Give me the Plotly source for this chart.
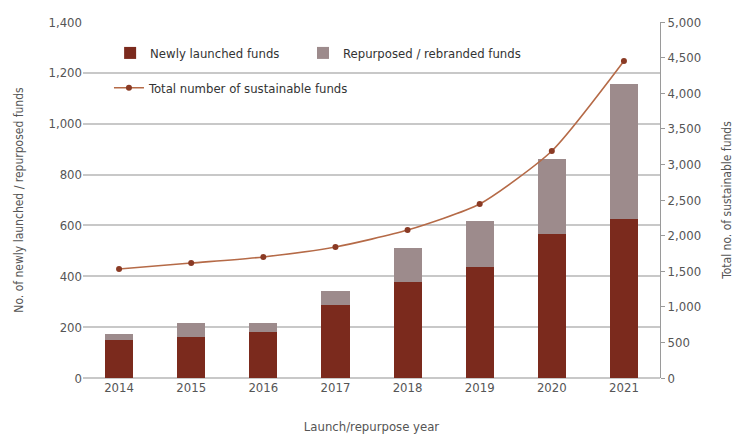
import plotly.graph_objects as go

years = ["2014", "2015", "2016", "2017", "2018", "2019", "2020", "2021"]
newly_launched = [150, 160, 180, 287, 377, 436, 566, 625]
repurposed = [23, 55, 35, 55, 134, 181, 295, 531]
total_funds = [1530, 1615, 1700, 1840, 2078, 2444, 3188, 4452]

font_family = "DejaVu Sans Condensed, Liberation Sans Narrow, Roboto, sans-serif"
txt = "#555555"

fig = go.Figure()
fig.add_trace(go.Bar(x=years, y=newly_launched, name="Newly launched funds" + "\u00a0" * 5,
                     marker=dict(color="#7b2a1d", line=dict(width=0)), legend="legend"))
fig.add_trace(go.Bar(x=years, y=repurposed, name="Repurposed / rebranded funds",
                     marker=dict(color="#9d8b8c", line=dict(width=0)), legend="legend"))
fig.add_trace(go.Scatter(x=years, y=total_funds, name="Total number of sustainable funds",
                         mode="lines+markers", yaxis="y2", legend="legend2",
                         line=dict(color="#b56a47", width=1.6, shape="spline", smoothing=0.6),
                         marker=dict(color="#8a3a24", size=6)))

fig.update_layout(
    width=742, height=439,
    margin=dict(l=83, r=82, t=22, b=61),
    barmode="stack", bargap=0.61,
    plot_bgcolor="white", paper_bgcolor="white",
    font=dict(family=font_family, size=12, color=txt),
    xaxis=dict(showgrid=False, showline=False, ticks="", tickfont=dict(size=13), automargin=False,
               title=dict(text="Launch/repurpose year", font=dict(size=13), standoff=27)),
    yaxis=dict(range=[0, 1400], dtick=200, tickformat=",", gridcolor="#c8c8c8", gridwidth=1.5,
               zeroline=True, zerolinecolor="#c8c8c8", zerolinewidth=1.5,
               showline=False, tickfont=dict(size=13),
               title=dict(text="No. of newly launched / repurposed funds", font=dict(size=12), standoff=22)),
    yaxis2=dict(range=[0, 5000], dtick=500, tickformat=",", overlaying="y", side="right",
                showgrid=False, zeroline=False, showline=True, linecolor="#9a9a9a", linewidth=1,
                ticks="outside", ticklen=4, tickcolor="#9a9a9a", tickfont=dict(size=13),
                title=dict(text="Total no. of sustainable funds", font=dict(size=12), standoff=22)),
    legend=dict(orientation="h", x=0.047, y=0.913, xanchor="left", yanchor="middle",
                bgcolor="rgba(0,0,0,0)", font=dict(size=13, color="#333"), traceorder="normal",
                itemwidth=30),
    legend2=dict(orientation="h", x=0.045, y=0.815, xanchor="left", yanchor="middle",
                 bgcolor="rgba(0,0,0,0)", font=dict(size=13, color="#333"), itemwidth=30),
)

fig.write_html("out.html")
